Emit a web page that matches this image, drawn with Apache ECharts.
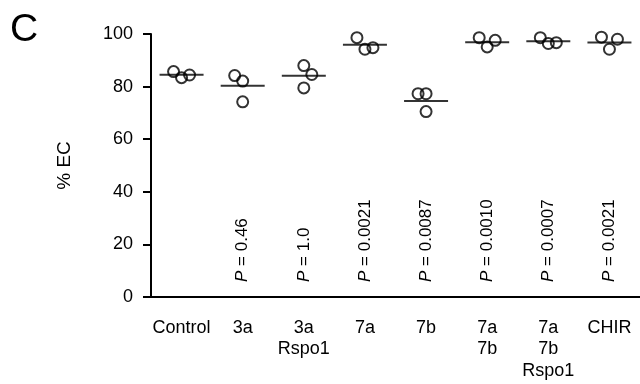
<!DOCTYPE html>
<html>
<head>
<meta charset="utf-8">
<script src="https://cdn.jsdelivr.net/npm/echarts@6/dist/echarts.min.js"></script>
<style>
  html, body { margin: 0; padding: 0; background: #fff; }
  #chart { width: 640px; height: 384px; }
</style>
</head>
<body>
<div id="chart"></div>
<script>
// categories on the x axis
const groups = ["Control", "3a", "3a\nRspo1", "7a", "7b", "7a\n7b", "7a\n7b\nRspo1", "CHIR"];
// three replicates per group (% EC)
const rep1 = [85.7, 84.2, 88.0, 98.6, 77.3, 98.6, 98.6, 98.8];
const rep2 = [83.4, 82.1, 84.6, 94.2, 77.3, 95.1, 96.4, 94.2];
const rep3 = [84.4, 74.2, 79.5, 94.8, 70.5, 97.6, 96.7, 98.0];
// mean bars
const means = [84.5, 80.3, 84.1, 95.9, 74.5, 96.9, 97.2, 96.8];
// P values vs control (none for control)
const pValues = [null, "0.46", "1.0", "0.0021", "0.0087", "0.0010", "0.0007", "0.0021"];
const yTicks = [0, 20, 40, 60, 80, 100];

// horizontal jitter of each replicate, in px (layout only)
const jitter1 = [-8, -8, 0, -8, -8, -8, -8, -8];
const jitter2 = [0, 0, 8, 0, 0, 0, 0, 0];
const jitter3 = [8, 0, 0, 8, 0, 8, 8, 8];

const font = "Liberation Sans, Arial, sans-serif";

let dots = [];
[rep1, rep2, rep3].forEach(function (rep, r) {
  const jit = [jitter1, jitter2, jitter3][r];
  rep.forEach(function (v, i) {
    dots.push({ value: [i, v], symbolOffset: [jit[i], 0] });
  });
});

let myChart = echarts.init(document.getElementById("chart"));
myChart.setOption({
  animation: false,
  graphic: [
    {
      type: "text",
      left: 10,
      top: 11,
      style: { text: "C", font: "39px " + font, fill: "#000" },
    },
  ],
  grid: {
    left: 151,
    right: -6,
    top: 34,
    bottom: 87,
  },
  xAxis: {
    type: "category",
    data: groups,
    axisLine: { lineStyle: { color: "#000", width: 2 } },
    axisTick: { alignWithLabel: true, length: 8, lineStyle: { color: "#000", width: 2 } },
    axisLabel: {
      color: "#000",
      fontSize: 18,
      fontFamily: font,
      margin: 20,
      lineHeight: 21.6,
      interval: 0,
    },
  },
  yAxis: {
    type: "value",
    min: 0,
    max: 100,
    interval: 20,
    name: "% EC",
    nameLocation: "middle",
    nameGap: 77,
    nameTextStyle: { color: "#000", fontSize: 19, fontFamily: font },
    splitLine: { show: false },
    axisLine: { show: true, lineStyle: { color: "#000", width: 2 } },
    axisTick: { show: true, length: 8, lineStyle: { color: "#000", width: 2 } },
    axisLabel: {
      color: "#000",
      fontSize: 18,
      fontFamily: font,
      margin: 18,
      customValues: yTicks,
    },
  },
  series: [
    {
      name: "mean",
      type: "scatter",
      symbol: "rect",
      symbolSize: [44, 2],
      itemStyle: { color: "#000" },
      data: means.map(function (m, i) { return [i, m]; }),
      z: 3,
    },
    {
      name: "replicates",
      type: "scatter",
      symbol: "circle",
      symbolSize: 11,
      itemStyle: { color: "rgba(0,0,0,0)", borderColor: "#000", borderWidth: 2 },
      data: dots,
      z: 4,
    },
    {
      name: "pvalues",
      type: "custom",
      data: pValues.map(function (p, i) { return [i, 0]; }),
      renderItem: function (params, api) {
        const p = pValues[params.dataIndex];
        if (!p) return null;
        const pt = api.coord([api.value(0), api.value(1)]);
        return {
          type: "text",
          x: pt[0],
          y: pt[1] - 15,
          rotation: Math.PI / 2,
          style: {
            text: "{i|P} = " + p,
            fill: "#000",
            fontSize: 17,
            fontFamily: font,
            align: "left",
            verticalAlign: "middle",
            rich: { i: { fontStyle: "italic", fontSize: 17, fontFamily: font } },
          },
        };
      },
    },
  ],
});
</script>
</body>
</html>
